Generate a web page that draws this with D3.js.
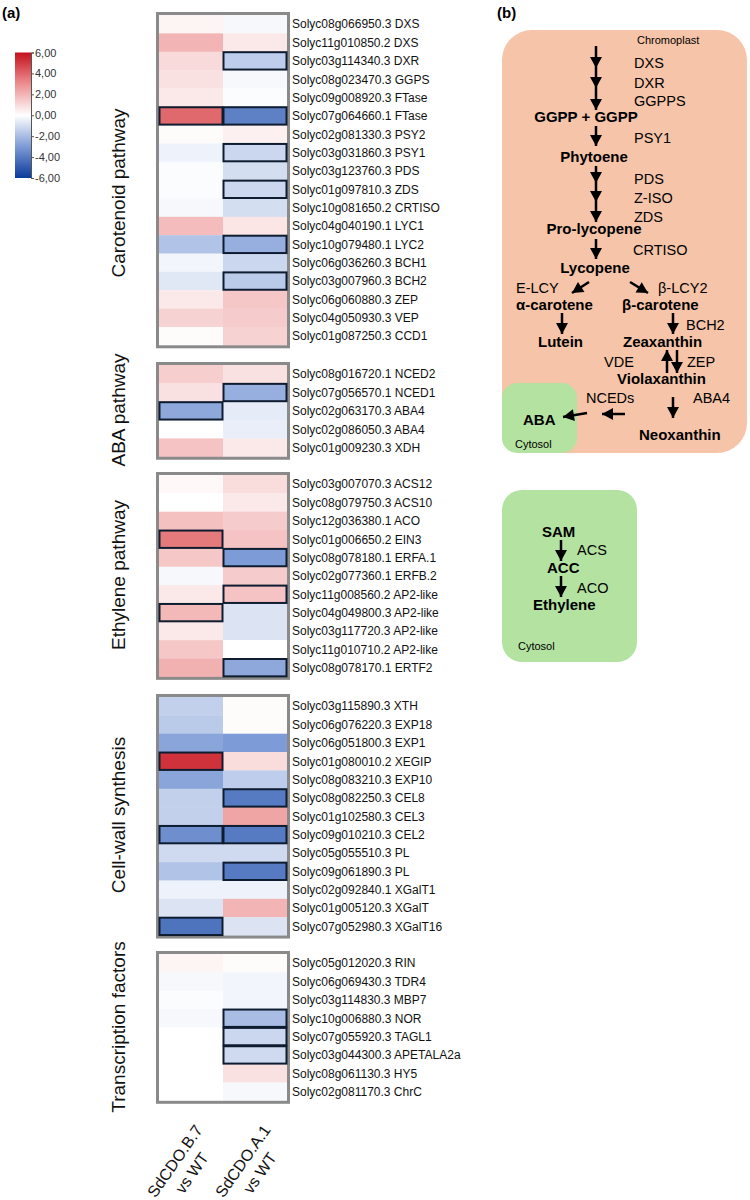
<!DOCTYPE html>
<html><head><meta charset="utf-8">
<script src="https://cdn.jsdelivr.net/npm/d3@7"></script>
<style>
body{margin:0;background:#fff;}
svg{display:block;font-family:Arial,"Liberation Sans",sans-serif;}
</style></head>
<body>
<svg id="chart" width="750" height="1200"></svg>
<script>
// ---------------- DATA ----------------
const columns = ["SdCDO.B.7|vs WT", "SdCDO.A.1|vs WT"];
const sectionNames = ["Carotenoid pathway", "ABA pathway", "Ethylene pathway", "Cell-wall synthesis", "Transcription factors"];

const carotenoidGenes = ["Solyc08g066950.3 DXS","Solyc11g010850.2 DXS","Solyc03g114340.3 DXR","Solyc08g023470.3 GGPS","Solyc09g008920.3 FTase","Solyc07g064660.1 FTase","Solyc02g081330.3 PSY2","Solyc03g031860.3 PSY1","Solyc03g123760.3 PDS","Solyc01g097810.3 ZDS","Solyc10g081650.2 CRTISO","Solyc04g040190.1 LYC1","Solyc10g079480.1 LYC2","Solyc06g036260.3 BCH1","Solyc03g007960.3 BCH2","Solyc06g060880.3 ZEP","Solyc04g050930.3 VEP","Solyc01g087250.3 CCD1"];
const carotenoidB7 = [0.3, 2.0, 1.0, 0.8, 0.6, 3.9, 0.1, -0.4, -0.1, -0.1, -0.2, 1.8, -1.8, -0.3, -0.7, 0.6, 1.2, 0.1];
const carotenoidA1 = [-0.2, 0.6, -1.5, -0.2, -0.1, -3.8, 0.4, -1.2, -1.0, -1.2, -1.0, 0.7, -2.4, -1.2, -1.6, 1.5, 1.4, 1.2];
const carotenoidSigB7 = [0,0,0,0,0,1,0,0,0,0,0,0,0,0,0,0,0,0];
const carotenoidSigA1 = [0,0,1,0,0,1,0,1,0,1,0,0,1,0,1,0,0,0];

const abaGenes = ["Solyc08g016720.1 NCED2","Solyc07g056570.1 NCED1","Solyc02g063170.3 ABA4","Solyc02g086050.3 ABA4","Solyc01g009230.3 XDH"];
const abaB7 = [1.3, 0.8, -2.6, 0.0, 1.6];
const abaA1 = [0.8, -2.4, -0.6, -0.5, 0.6];
const abaSigB7 = [0,0,1,0,0];
const abaSigA1 = [0,1,0,0,0];

const ethyleneGenes = ["Solyc03g007070.3 ACS12","Solyc08g079750.3 ACS10","Solyc12g036380.1 ACO","Solyc01g006650.2 EIN3","Solyc08g078180.1 ERFA.1","Solyc02g077360.1 ERFB.2","Solyc11g008560.2 AP2-like","Solyc04g049800.3 AP2-like","Solyc03g117720.3 AP2-like","Solyc11g010710.2 AP2-like","Solyc08g078170.1 ERTF2"];
const ethyleneB7 = [0.2, 0.0, 1.7, 3.5, 1.5, -0.2, 0.6, 1.9, 0.6, 1.5, 2.1];
const ethyleneA1 = [0.9, 0.6, 1.4, 1.6, -3.0, 1.4, 1.6, -0.8, -0.8, 0.0, -2.6];
const ethyleneSigB7 = [0,0,0,1,0,0,0,1,0,0,0];
const ethyleneSigA1 = [0,0,0,0,1,0,1,0,0,0,1];

const cellwallGenes = ["Solyc03g115890.3 XTH","Solyc06g076220.3 EXP18","Solyc06g051800.3 EXP1","Solyc01g080010.2 XEGIP","Solyc08g083210.3 EXP10","Solyc08g082250.3 CEL8","Solyc01g102580.3 CEL3","Solyc09g010210.3 CEL2","Solyc05g055510.3 PL","Solyc09g061890.3 PL","Solyc02g092840.1 XGalT1","Solyc01g005120.3 XGalT","Solyc07g052980.3 XGalT16"];
const cellwallB7 = [-1.4, -1.6, -2.7, 5.2, -2.7, -1.4, -1.4, -3.4, -1.1, -1.8, -0.4, -0.8, -4.2];
const cellwallA1 = [0.1, 0.1, -3.0, 0.9, -1.5, -4.0, 2.4, -4.0, -1.1, -4.0, -0.4, 2.0, -0.8];
const cellwallSigB7 = [0,0,0,1,0,0,0,1,0,0,0,0,1];
const cellwallSigA1 = [0,0,0,0,0,1,0,1,0,1,0,0,0];

const tfGenes = ["Solyc05g012020.3 RIN","Solyc06g069430.3 TDR4","Solyc03g114830.3 MBP7","Solyc10g006880.3 NOR","Solyc07g055920.3 TAGL1","Solyc03g044300.3 APETALA2a","Solyc08g061130.3 HY5","Solyc02g081170.3 ChrC"];
const tfB7 = [0.3, -0.2, -0.1, -0.2, 0.0, 0.0, 0.0, 0.0];
const tfA1 = [0.1, -0.3, -0.3, -2.0, -1.2, -1.1, 0.8, -0.2];
const tfSigB7 = [0,0,0,0,0,0,0,0];
const tfSigA1 = [0,0,0,1,1,1,0,0];

const legendTicks = [6, 4, 2, 0, -2, -4, -6];

// ---------------- BUILD ----------------
const sections = [
  {name: sectionNames[0], genes: carotenoidGenes, b7: carotenoidB7, a1: carotenoidA1, sb: carotenoidSigB7, sa: carotenoidSigA1},
  {name: sectionNames[1], genes: abaGenes, b7: abaB7, a1: abaA1, sb: abaSigB7, sa: abaSigA1},
  {name: sectionNames[2], genes: ethyleneGenes, b7: ethyleneB7, a1: ethyleneA1, sb: ethyleneSigB7, sa: ethyleneSigA1},
  {name: sectionNames[3], genes: cellwallGenes, b7: cellwallB7, a1: cellwallA1, sb: cellwallSigB7, sa: cellwallSigA1},
  {name: sectionNames[4], genes: tfGenes, b7: tfB7, a1: tfA1, sb: tfSigB7, sa: tfSigA1}
];
// layout (positions only)
const sectionTop = [15, 365, 475, 697, 954];
const sectionLabelY = [193, 410, 575, 815, 1027];
const rowH = 18.35;

const svg = d3.select("#chart");
const color = d3.scaleLinear()
  .domain([-6, -3, 0, 3, 6])
  .range(["#0a3a9a", "#7d9bd6", "#ffffff", "#ec8f8f", "#c4101c"])
  .clamp(true);

const x = d3.scaleBand().domain(columns).range([159, 287]).paddingInner(0);

// panel labels
svg.append("text").attr("x", 2).attr("y", 18).attr("font-size", 15).attr("font-weight", "bold").text("(a)");
svg.append("text").attr("x", 497).attr("y", 18).attr("font-size", 15).attr("font-weight", "bold").text("(b)");

sections.forEach((s, si) => {
  const n = s.genes.length;
  const y = d3.scaleBand().domain(s.genes).range([sectionTop[si], sectionTop[si] + n * rowH]);
  const g = svg.append("g");
  const cells = [];
  s.genes.forEach((gname, i) => {
    cells.push({gene: gname, col: columns[0], v: s.b7[i], sig: s.sb[i]});
    cells.push({gene: gname, col: columns[1], v: s.a1[i], sig: s.sa[i]});
  });
  g.selectAll("rect.cell").data(cells).join("rect")
    .attr("class", "cell")
    .attr("x", d => x(d.col)).attr("y", d => y(d.gene))
    .attr("width", x.bandwidth()).attr("height", y.bandwidth() + 0.3)
    .attr("fill", d => color(d.v));
  // frame
  g.append("rect")
    .attr("x", 157.5).attr("y", sectionTop[si] - 1.5)
    .attr("width", 131).attr("height", n * rowH + 3)
    .attr("fill", "none").attr("stroke", "#8a8a8a").attr("stroke-width", 3);
  // significance boxes
  g.selectAll("rect.sig").data(cells.filter(d => d.sig)).join("rect")
    .attr("class", "sig")
    .attr("x", d => x(d.col) + 0.5).attr("y", d => y(d.gene) + 0.5)
    .attr("width", x.bandwidth() - 1).attr("height", y.bandwidth() - 1)
    .attr("fill", "none").attr("stroke", "#0e1c30").attr("stroke-width", 2);
  // gene labels
  g.selectAll("text.gene").data(s.genes).join("text")
    .attr("class", "gene")
    .attr("x", 292).attr("y", d => y(d) + y.bandwidth() / 2)
    .attr("dy", "0.36em").attr("font-size", 12).attr("fill", "#111")
    .text(d => d);
  // section label
  svg.append("text")
    .attr("transform", `translate(125,${sectionLabelY[si]}) rotate(-90)`)
    .attr("text-anchor", "middle").attr("font-size", 19).attr("fill", "#111")
    .text(s.name);
});

// column labels
const colLabelX = [182, 250];
columns.forEach((c, i) => {
  const parts = c.split("|");
  const t = svg.append("text")
    .attr("transform", `translate(${colLabelX[i]},1166) rotate(-55)`)
    .attr("text-anchor", "middle").attr("font-size", 16).attr("fill", "#111");
  t.append("tspan").attr("x", 0).attr("dy", "-0.2em").text(parts[0]);
  t.append("tspan").attr("x", 0).attr("dy", "1.3em").text(parts[1]);
});

// legend
const defs = svg.append("defs");
const grad = defs.append("linearGradient").attr("id", "lg").attr("x1", 0).attr("x2", 0).attr("y1", 1).attr("y2", 0);
d3.range(-6, 6.01, 1).forEach(v => {
  grad.append("stop").attr("offset", ((v + 6) / 12 * 100) + "%").attr("stop-color", color(v));
});
const ly = d3.scaleLinear().domain([-6, 6]).range([178, 52.5]);
svg.append("rect").attr("x", 15).attr("y", 52.5).attr("width", 16).attr("height", 125.5).attr("fill", "url(#lg)");
const loc = d3.formatLocale({decimal: ",", thousands: ".", grouping: [3], currency: ["", ""], minus: "-"});
const fmt = loc.format(".2f");
const lAxis = svg.append("g").attr("transform", "translate(31,0)")
  .call(d3.axisRight(ly).tickValues(legendTicks).tickFormat(fmt).tickSize(3).tickPadding(1));
lAxis.select(".domain").attr("stroke", "#555");
lAxis.selectAll(".tick line").attr("stroke", "#555");
lAxis.selectAll("text").attr("font-size", 11).attr("fill", "#333").attr("font-family", "Arial, 'Liberation Sans', sans-serif");

// ---------------- PATHWAY PANEL (b) ----------------
const pw = svg.append("g");
pw.append("rect").attr("x", 502).attr("y", 30).attr("width", 245).attr("height", 423).attr("rx", 30).attr("fill", "#f6c4a8");
pw.append("rect").attr("x", 502).attr("y", 383).attr("width", 75).attr("height", 70).attr("rx", 15).attr("fill", "#b3e2a1");
pw.append("rect").attr("x", 502).attr("y", 490).attr("width", 135).attr("height", 172).attr("rx", 20).attr("fill", "#b3e2a1");

function txt(xx, yy, s, opt = {}) {
  pw.append("text").attr("x", xx).attr("y", yy)
    .attr("font-size", opt.size || 14.5)
    .attr("font-weight", opt.bold ? "bold" : "normal")
    .attr("text-anchor", opt.anchor || "start")
    .attr("fill", "#000").text(s);
}
function head(tx, ty, ang) { // ang: direction of pointing in degrees (0 = right, 90 = down)
  const L = 11, W = 6;
  const a = ang * Math.PI / 180;
  const bx = tx - L * Math.cos(a), by = ty - L * Math.sin(a);
  const px = -Math.sin(a) * W, py = Math.cos(a) * W;
  pw.append("path").attr("d", `M${tx},${ty}L${bx + px},${by + py}L${bx - px},${by - py}Z`).attr("fill", "#000");
}
function arrow(x1, y1, x2, y2, heads) {
  pw.append("line").attr("x1", x1).attr("y1", y1).attr("x2", x2).attr("y2", y2).attr("stroke", "#000").attr("stroke-width", 2.5);
  const ang = Math.atan2(y2 - y1, x2 - x1) * 180 / Math.PI;
  (heads || [[x2, y2]]).forEach(h => head(h[0], h[1], ang));
}

txt(637, 44, "Chromoplast", {size: 11});
arrow(596, 46, 596, 110, [[596, 68], [596, 88], [596, 110]]);
txt(634, 68, "DXS"); txt(634, 88, "DXR"); txt(634, 106, "GGPPS");
txt(586, 122, "GGPP + GGPP", {bold: true, anchor: "middle", size: 15});
arrow(596, 126, 596, 146);
txt(634, 143, "PSY1");
txt(594, 162, "Phytoene", {bold: true, anchor: "middle", size: 15});
arrow(596, 166, 596, 222, [[596, 183], [596, 202], [596, 222]]);
txt(634, 184, "PDS"); txt(634, 203, "Z-ISO"); txt(634, 222, "ZDS");
txt(594, 234, "Pro-lycopene", {bold: true, anchor: "middle", size: 15});
arrow(596, 239, 596, 259);
txt(633, 255, "CRTISO");
txt(595, 273, "Lycopene", {bold: true, anchor: "middle", size: 15});
arrow(589, 282, 572, 293);
arrow(630, 282, 648, 293);
txt(516, 293, "E-LCY"); txt(658, 293, "β-LCY2");
txt(516, 310, "α-carotene", {bold: true, size: 15});
txt(622, 310, "β-carotene", {bold: true, size: 15});
arrow(562, 313, 562, 334);
arrow(673, 313, 673, 334);
txt(686, 330, "BCH2");
txt(538, 347, "Lutein", {bold: true, size: 15});
txt(623, 347, "Zeaxanthin", {bold: true, size: 15});
arrow(667, 373, 667, 350);
arrow(677, 350, 677, 373);
txt(604, 367, "VDE"); txt(687, 367, "ZEP");
txt(617, 384, "Violaxanthin", {bold: true, size: 15});
txt(586, 403, "NCEDs"); txt(693, 403, "ABA4");
arrow(673, 397, 673, 418);
arrow(625, 414, 602, 414);
arrow(587, 413, 563, 417);
txt(523, 425, "ABA", {bold: true, size: 15});
txt(639, 440, "Neoxanthin", {bold: true, size: 15});
txt(515, 448, "Cytosol", {size: 11});

txt(542, 537, "SAM", {bold: true, size: 15});
arrow(561, 540, 561, 561);
txt(577, 555, "ACS");
txt(547, 573, "ACC", {bold: true, size: 15});
arrow(561, 576, 561, 597);
txt(577, 593, "ACO");
txt(533, 610, "Ethylene", {bold: true, size: 15});
txt(518, 650, "Cytosol", {size: 11});
</script>
</body></html>
